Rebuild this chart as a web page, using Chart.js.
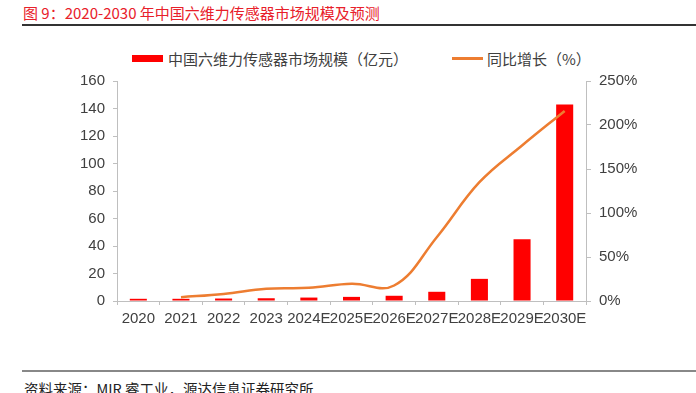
<!DOCTYPE html>
<html>
<head>
<meta charset="utf-8">
<script src="https://cdn.jsdelivr.net/npm/chart.js@4"></script>
<style>
  html, body { margin: 0; padding: 0; background: #fff; }
  body { width: 696px; height: 393px; position: relative; overflow: hidden;
         font-family: "Noto Sans CJK SC", "Liberation Sans", sans-serif; }
  #title { position: absolute; left: 23px; top: 2px; font-size: 15px; color: #e8202a; white-space: nowrap; }
  #title-rule { position: absolute; left: 22px; right: 0; top: 24px; height: 2px; background: #333; }
  #foot-rule { position: absolute; left: 22px; right: 0; top: 370px; height: 2px; background: #888; }
  #source { position: absolute; left: 24px; top: 378px; font-size: 14.5px; color: #222; white-space: nowrap; }
  .legend { position: absolute; top: 48px; font-size: 15px; color: #404040; white-space: nowrap; }
  .swatch { position: absolute; }
  #wrap { position: absolute; left: 0; top: 64px; width: 696px; height: 267px; }
</style>
</head>
<body>
<div id="title">图 9：2020-2030 年中国六维力传感器市场规模及预测</div>
<div id="title-rule"></div>

<div class="swatch" style="left:132px;top:55px;width:31px;height:7px;background:#ff0000"></div>
<div class="legend" style="left:168px">中国六维力传感器市场规模（亿元）</div>
<div class="swatch" style="left:452px;top:57px;width:31px;height:2.5px;background:#ed7d31"></div>
<div class="legend" style="left:487px">同比增长（%）</div>

<div id="wrap"><canvas id="chart"></canvas></div>

<div id="foot-rule"></div>
<div id="source">资料来源：MIR 睿工业，源达信息证券研究所</div>

<script>
// ===== Data =====
const years = ["2020", "2021", "2022", "2023", "2024E", "2025E", "2026E", "2027E", "2028E", "2029E", "2030E"];
const marketSize = [1.6, 1.6, 1.8, 2.0, 2.5, 3.0, 3.8, 6.7, 16.1, 45, 143];
const growthPct = [null, 4.3, 8, 14, 15, 19.5, 17.6, 72.5, 135, 176.7, 216];
const leftTicks = [0, 20, 40, 60, 80, 100, 120, 140, 160];
const rightTicks = [0, 50, 100, 150, 200, 250];

const axisColor = "#bfbfbf";
const tickFont = { family: "Liberation Sans", size: 15 };
const tickColor = "#404040";

new Chart(document.getElementById("chart"), {
    type: "bar",
    data: {
        labels: years,
        datasets: [
            {
                type: "line",
                label: "同比增长（%）",
                data: growthPct,
                yAxisID: "y2",
                borderColor: "#ed7d31",
                borderWidth: 2.5,
                pointRadius: 0,
                tension: 0.4,
                fill: false,
                order: 0,
            },
            {
                type: "bar",
                label: "中国六维力传感器市场规模（亿元）",
                data: marketSize,
                yAxisID: "y",
                backgroundColor: "#ff0000",
                categoryPercentage: 1,
                barPercentage: 0.4,
                order: 1,
            },
        ],
    },
    options: {
        responsive: true,
        maintainAspectRatio: false,
        animation: false,
        layout: { padding: { top: 5, left: 0, right: 0, bottom: 0 } },
        plugins: { legend: { display: false }, tooltip: { enabled: false } },
        scales: {
            x: {
                grid: { display: true, drawOnChartArea: false, tickLength: 4, color: axisColor },
                border: { color: axisColor },
                ticks: { font: tickFont, color: tickColor, autoSkip: false, maxRotation: 0, padding: 5 },
                afterFit: function(scale) { scale.height = 30; },
            },
            y: {
                position: "left",
                min: 0,
                max: 160,
                afterBuildTicks: function(scale) { scale.ticks = leftTicks.map(v => ({ value: v })); },
                grid: { display: true, drawOnChartArea: false, tickLength: 4, color: axisColor },
                border: { color: axisColor },
                ticks: { font: tickFont, color: tickColor, padding: 8 },
                afterFit: function(scale) { scale.width = 117; },
            },
            y2: {
                position: "right",
                min: 0,
                max: 250,
                afterBuildTicks: function(scale) { scale.ticks = rightTicks.map(v => ({ value: v })); },
                grid: { display: true, drawOnChartArea: false, tickLength: 5, color: axisColor },
                border: { color: axisColor },
                ticks: { font: tickFont, color: tickColor, padding: 8, callback: v => v + "%" },
                afterFit: function(scale) { scale.width = 110; },
            },
        },
    },
});
</script>
</body>
</html>
